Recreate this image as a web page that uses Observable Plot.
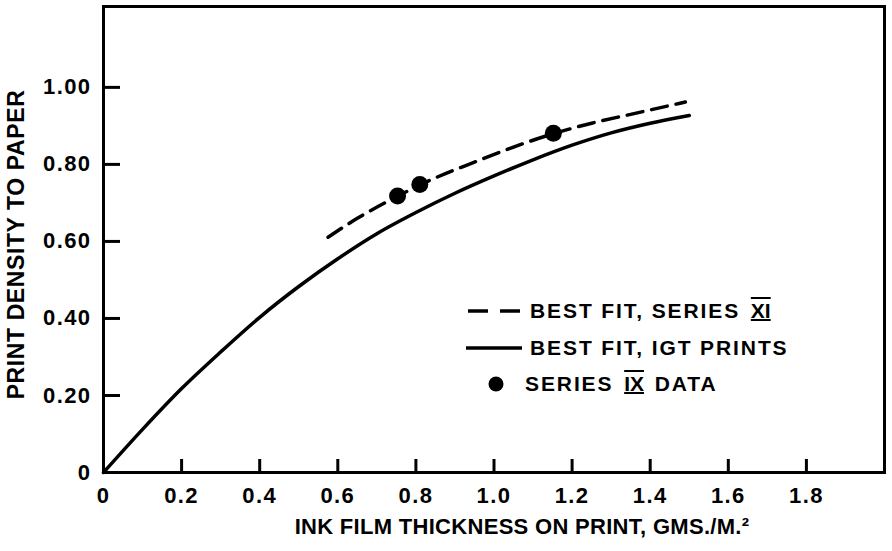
<!DOCTYPE html>
<html>
<head>
<meta charset="utf-8">
<script src="https://cdn.jsdelivr.net/npm/d3@7"></script>
<script src="https://cdn.jsdelivr.net/npm/@observablehq/plot@0.6"></script>
<style>
  body { margin: 0; background: #fff; }
  #chart { position: relative; width: 892px; height: 551px; }
  #chart svg [aria-label="x-axis tick label"],
  #chart svg [aria-label="y-axis tick label"] { letter-spacing: 1.4px; }
  #chart svg .xtitle { letter-spacing: 0.3px; }
  #chart svg .ytitle { letter-spacing: 0.6px; }
  .legend { position: absolute; left: 0; top: 0; width: 892px; height: 551px; pointer-events: none;
            font-family: "Liberation Sans", Arial, sans-serif; font-weight: bold; font-size: 21px;
            letter-spacing: 1.9px; color: #000; }
  .row { position: absolute; white-space: nowrap; line-height: 20px; height: 20px; }
  .sample { position: absolute; top: 0; }
  .rn { text-decoration-line: underline overline; text-decoration-thickness: 2px; letter-spacing: 0; padding: 0 3px; }
</style>
</head>
<body>
<div id="chart"></div>
<script>
// Axis ticks
const xTicks = [0, 0.2, 0.4, 0.6, 0.8, 1.0, 1.2, 1.4, 1.6, 1.8];
const yTicks = [0, 0.2, 0.4, 0.6, 0.8, 1.0];

// Best fit, IGT prints (solid)
const igtX = [0, 0.1, 0.2, 0.3, 0.4, 0.5, 0.6, 0.7, 0.8, 0.9, 1.0, 1.1, 1.2, 1.3, 1.4, 1.5];
const igtY = [0, 0.112, 0.218, 0.313, 0.403, 0.483, 0.555, 0.62, 0.675, 0.725, 0.77, 0.812, 0.85, 0.882, 0.907, 0.927];

// Best fit, series XI (dashed)
const s11X = [0.575, 0.65, 0.75, 0.85, 0.95, 1.05, 1.15, 1.25, 1.35, 1.49];
const s11Y = [0.611, 0.66, 0.716, 0.765, 0.806, 0.845, 0.879, 0.907, 0.93, 0.962];

// Series IX data points
const s9X = [0.753, 0.81, 1.152];
const s9Y = [0.718, 0.748, 0.881];

const xTitle = "INK FILM THICKNESS ON PRINT, GMS./M.\u00B2";
const yTitle = "PRINT DENSITY TO PAPER";

const igt = igtX.map((x, i) => ({x, y: igtY[i]}));
const s11 = s11X.map((x, i) => ({x, y: s11Y[i]}));
const s9 = s9X.map((x, i) => ({x, y: s9Y[i]}));

const font = '"Liberation Sans", Arial, sans-serif';

const chart = Plot.plot({
  width: 892,
  height: 551,
  marginLeft: 103,
  marginRight: 8,
  marginTop: 6,
  marginBottom: 79,
  style: { fontFamily: font, fontWeight: "bold", color: "#000", background: "#fff" },
  x: { domain: [0, 2] },
  y: { domain: [0, 1.21] },
  marks: [
    Plot.frame({ stroke: "#000", strokeWidth: 3 }),
    // inward tick marks
    Plot.tickX(xTicks, { x: d => d, insetTop: 453, stroke: "#000", strokeWidth: 3 }),
    Plot.tickY(yTicks, { y: d => d, insetRight: 764, stroke: "#000", strokeWidth: 3 }),
    Plot.axisX(xTicks, {
      tickSize: 0, tickPadding: 15, fontSize: 22, label: null,
      tickFormat: d => d === 0 ? "0" : d.toFixed(1)
    }),
    Plot.axisY(yTicks, {
      tickSize: 0, tickPadding: 12, fontSize: 22, label: null,
      tickFormat: d => d === 0 ? "0" : d.toFixed(2)
    }),
    Plot.line(igt, { x: "x", y: "y", stroke: "#000", strokeWidth: 3.5, curve: "monotone-x" }),
    Plot.line(s11, { x: "x", y: "y", stroke: "#000", strokeWidth: 3.5, strokeDasharray: "16,9", curve: "monotone-x" }),
    Plot.dot(s9, { x: "x", y: "y", r: 8.5, fill: "#000" }),
    Plot.text([xTitle], { text: d => d, frameAnchor: "bottom", textAnchor: "middle", dx: 28, dy: 61, fontSize: 22, fill: "#000", className: "xtitle" }),
    Plot.text([yTitle], { text: d => d, frameAnchor: "left", textAnchor: "middle", rotate: -90, dx: -87, dy: 5, fontSize: 23, fill: "#000", className: "ytitle" })
  ]
});

const host = document.getElementById("chart");
host.appendChild(chart);

// Legend drawn inside the plotting area
const legend = document.createElement("div");
legend.className = "legend";
legend.innerHTML = `
  <div class="row" style="left:468px;top:301px;width:380px;">
    <svg class="sample" width="54" height="20"><line x1="0" y1="10" x2="54" y2="10" stroke="#000" stroke-width="3.5" stroke-dasharray="20,12"/></svg>
    <span style="position:absolute;left:62px;">BEST FIT, SERIES <span class="rn">XI</span></span>
  </div>
  <div class="row" style="left:466px;top:338px;width:380px;">
    <svg class="sample" width="56" height="20"><line x1="0" y1="10" x2="56" y2="10" stroke="#000" stroke-width="3.5"/></svg>
    <span style="position:absolute;left:64px;">BEST FIT, IGT PRINTS</span>
  </div>
  <div class="row" style="left:488px;top:374px;width:340px;">
    <svg class="sample" width="16" height="20"><circle cx="8" cy="10" r="7.5" fill="#000"/></svg>
    <span style="position:absolute;left:37px;">SERIES <span class="rn">IX</span> DATA</span>
  </div>`;
host.appendChild(legend);
</script>
</body>
</html>
